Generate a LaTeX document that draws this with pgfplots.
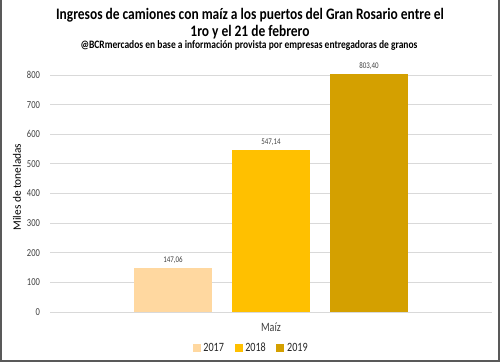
\documentclass[border=0pt]{standalone}
\usepackage{pgfplots}
\pgfplotsset{compat=1.18}
\usepackage{fontspec}
\setmainfont{Carlito}[FakeStretch=0.8]
\newfontfamily\plainfont{Carlito}
\newfontfamily\titlefont{Carlito}[FakeStretch=0.84]
\definecolor{c17}{HTML}{FFD8A0}
\definecolor{c18}{HTML}{FFC000}
\definecolor{c19}{HTML}{D4A000}
\definecolor{txt}{HTML}{404040}
\definecolor{gridc}{HTML}{D9D9D9}
\definecolor{frame}{HTML}{595959}
\begin{document}
\begin{tikzpicture}
\path[use as bounding box] (0,0) rectangle (375pt,271.5pt);
\draw[frame, line width=1.5pt] (0.75pt,271.5pt) -- (0.75pt,0.75pt) -- (374.25pt,0.75pt) -- (374.25pt,271.5pt);
\begin{axis}[
  at={(37.5pt,37.5pt)}, anchor=south west,
  scale only axis, width=331.5pt, height=177.75pt,
  xmin=-2.255, xmax=2.255, ymin=0, ymax=800,
  ytick={0,100,...,800},
  xtick=\empty,
  ymajorgrids, grid style={gridc, line width=0.75pt},
  axis line style={draw=none},
  major tick length=0pt,
  /pgf/number format/assume math mode=true,
  yticklabel style={font=\fontsize{8}{9}\selectfont, text=txt, xshift=-4pt},
  ybar, bar shift=0pt, bar width=0.786,
  clip=false,
  nodes near coords,
  every node near coord/.append style={font=\fontsize{6.5}{8}\selectfont, text=txt, /pgf/number format/.cd, fixed, fixed zerofill, precision=2, use comma, assume math mode=true},
  legend columns=3,
  legend style={at={(0.456,-0.152)}, anchor=center, draw=none, font=\fontsize{9.5}{11}\selectfont, text=black!85, /tikz/every even column/.append style={column sep=6pt}},
  legend image code/.code={\fill[#1] (0pt,-3pt) rectangle (6pt,3pt);},
]
\addplot[fill=c17, draw=none] coordinates {(-1,147.06)};
\addplot[fill=c18, draw=none] coordinates {(0,547.14)};
\addplot[fill=c19, draw=none] coordinates {(1,803.40)};
\legend{2017,2018,2019}
\end{axis}
\node[font=\titlefont\bfseries\fontsize{12}{13}\selectfont, text=black] at (187.5pt,260.25pt) {Ingresos de camiones con maíz a los puertos del Gran Rosario entre el};
\node[font=\titlefont\bfseries\fontsize{12}{13}\selectfont, text=black] at (187.5pt,247.5pt) {1ro y el 21 de febrero};
\node[font=\titlefont\bfseries\fontsize{8.5}{10}\selectfont, text=black] at (186.75pt,237.75pt) {@BCRmercados en base a información provista por empresas entregadoras de granos};
\node[font=\plainfont\fontsize{8.5}{10}\selectfont, text=black, rotate=90] at (12.75pt,131.25pt) {Miles de toneladas};
\node[font=\fontsize{9.5}{11}\selectfont, text=txt] at (203.25pt,26.25pt) {Maíz};
\end{tikzpicture}
\end{document}
